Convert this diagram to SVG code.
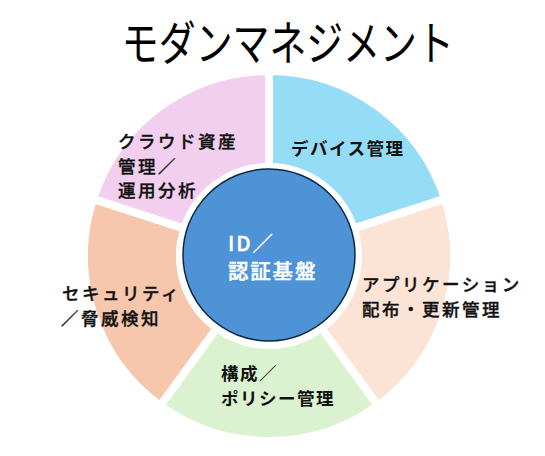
<svg xmlns="http://www.w3.org/2000/svg" width="545" height="456" viewBox="0 0 545 456">
<style>
.seg{stroke:#FFFFFF;stroke-width:8;stroke-linejoin:miter}
.lbl{font-family:"Noto Sans CJK JP","Noto Sans",sans-serif;font-size:17.5px;letter-spacing:2.5px;fill:#111111;stroke:#111111;stroke-width:0.35px;font-weight:500}
.bold{font-weight:700;letter-spacing:1.5px;stroke-width:0}
.ctr{font-family:"Noto Sans CJK JP","Noto Sans",sans-serif;font-size:20.5px;letter-spacing:1.8px;fill:#FFFFFF;stroke:#FFFFFF;stroke-width:0.4px;font-weight:500}
.title{font-family:"Noto Sans CJK JP","Noto Sans",sans-serif;font-size:47px;fill:#000000;font-weight:400}
</style>
<rect width="545" height="456" fill="#FFFFFF"/>
<text class="title" transform="translate(125,60) scale(0.785,1)" x="-4" y="0">モダンマネジメント</text>
<g id="segments">
<g id="node-device">
<path class="seg" fill="#95DCF7" d="M269,71 A185,185 0 0 1 444.95,198.83 L353.64,228.5 A89,89 0 0 0 269,167 Z"/>
<text class="lbl bold" x="291" y="155">デバイス管理</text>
</g>
<g id="node-app">
<path class="seg" fill="#FBE3D6" d="M444.95,198.83 A185,185 0 0 1 377.74,405.67 L321.31,328 A89,89 0 0 0 353.64,228.5 Z"/>
<text class="lbl" x="362" y="291">アプリケーション</text>
<text class="lbl" x="362" y="316">配布・更新管理</text>
</g>
<g id="node-config">
<path class="seg" fill="#DAF2D0" d="M377.74,405.67 A185,185 0 0 1 160.26,405.67 L216.69,328 A89,89 0 0 0 321.31,328 Z"/>
<text class="lbl bold" x="221" y="380">構成／</text>
<text class="lbl bold" x="221" y="405">ポリシー管理</text>
</g>
<g id="node-security">
<path class="seg" fill="#F6C6AD" d="M160.26,405.67 A185,185 0 0 1 93.05,198.83 L184.36,228.5 A89,89 0 0 0 216.69,328 Z"/>
<text class="lbl" x="62" y="300">セキュリティ</text>
<text class="lbl" x="61" y="325">／脅威検知</text>
</g>
<g id="node-cloud">
<path class="seg" fill="#F2CFEE" d="M93.05,198.83 A185,185 0 0 1 269,71 L269,167 A89,89 0 0 0 184.36,228.5 Z"/>
<text class="lbl" x="118" y="148">クラウド資産</text>
<text class="lbl" x="118" y="173">管理／</text>
<text class="lbl" x="118" y="197">運用分析</text>
</g>
</g>
<g id="node-id">
<circle cx="269" cy="255" r="86" fill="#4E93D6" stroke="#0E2841" stroke-width="1.5"/>
<text class="ctr" x="228" y="251">ID／</text>
<text class="ctr" x="228" y="279">認証基盤</text>
</g>
<g id="connectors"/>
</svg>
